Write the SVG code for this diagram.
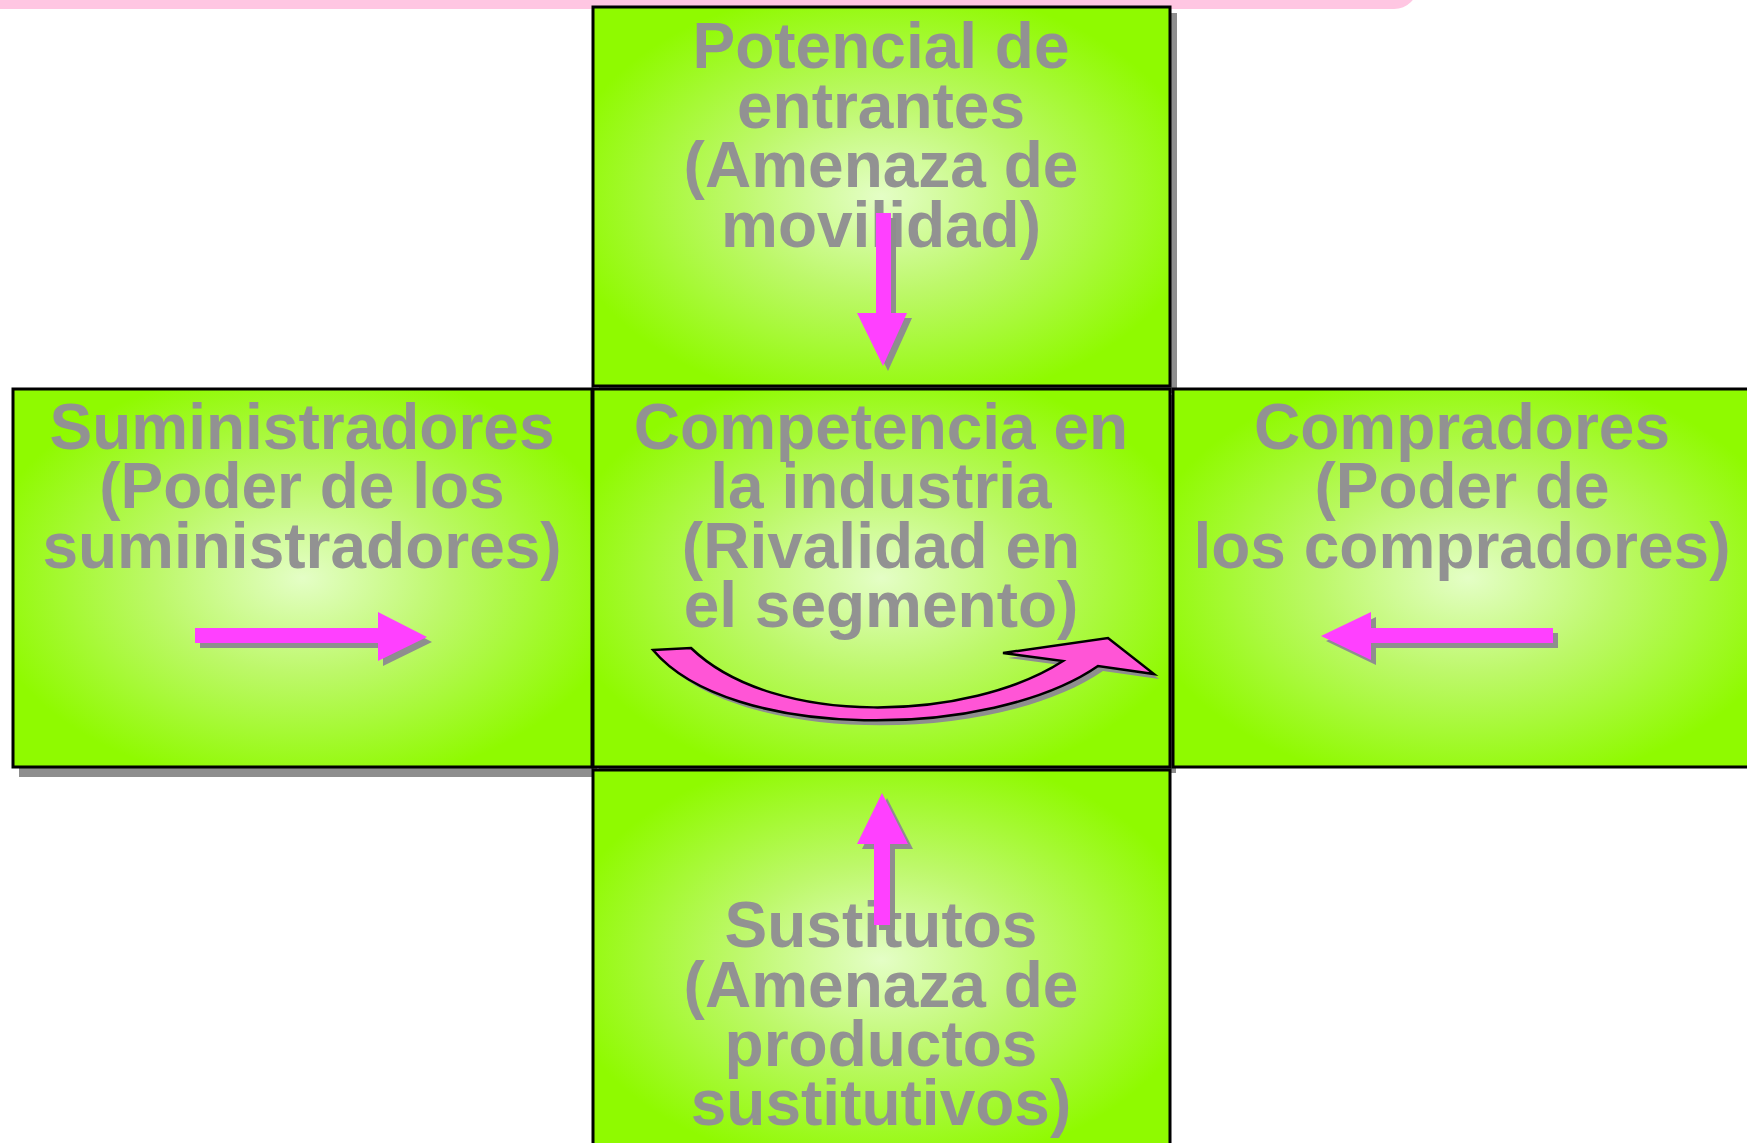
<svg xmlns="http://www.w3.org/2000/svg" width="1747" height="1143" viewBox="0 0 1747 1143">
<defs>
<radialGradient id="g" cx="0.5" cy="0.5" r="0.56">
<stop offset="0" stop-color="#E4FEC6"/>
<stop offset="0.45" stop-color="#BDF86A"/>
<stop offset="1" stop-color="#8FFA00"/>
</radialGradient>
<style>
.box{fill:url(#g);stroke:#000;stroke-width:3}
.sh{fill:#8E8E8E}
.t{font-family:"Liberation Sans",Arial,sans-serif;font-weight:bold;font-size:64px;fill:#929292;text-anchor:middle}
.ar{fill:#FF40FF}
.ash{fill:#8E8E8E}
.cv{fill:#FF55D6;stroke:#000;stroke-width:2.5;stroke-linejoin:miter}
</style>
</defs>
<rect width="1747" height="1143" fill="#fff"/>
<rect x="-40" y="-40" width="1458" height="49" rx="24" fill="#FFC6E2"/>

<g id="node-top">
<rect class="sh" x="599" y="13" width="578" height="380"/>
<rect class="box" x="593" y="7" width="577" height="379"/>
<text class="t"><tspan x="881" y="68">Potencial de</tspan><tspan x="881" y="128">entrantes</tspan><tspan x="881" y="187">(Amenaza de</tspan><tspan x="881" y="247">movilidad)</tspan></text>
</g>

<g id="node-left">
<rect class="sh" x="19" y="395" width="578" height="382"/>
<rect class="box" x="13" y="389" width="579" height="378"/>
<text class="t"><tspan x="302" y="449">Suministradores</tspan><tspan x="302" y="508">(Poder de los</tspan><tspan x="302" y="568">suministradores)</tspan></text>
</g>

<g id="node-center">
<rect class="sh" x="599" y="395" width="577" height="378"/>
<rect class="box" x="593" y="389" width="577" height="378"/>
<text class="t"><tspan x="881" y="449">Competencia en</tspan><tspan x="881" y="508">la industria</tspan><tspan x="881" y="568">(Rivalidad en</tspan><tspan x="881" y="627">el segmento)</tspan></text>
</g>

<g id="node-right">
<rect class="box" x="1173" y="389" width="590" height="378"/>
<text class="t"><tspan x="1462" y="449">Compradores</tspan><tspan x="1462" y="508">(Poder de</tspan><tspan x="1462" y="568">los compradores)</tspan></text>
</g>

<g id="node-bottom">
<rect class="box" x="593" y="770" width="577" height="380"/>
<text class="t"><tspan x="881" y="947">Sustitutos</tspan><tspan x="881" y="1007">(Amenaza de</tspan><tspan x="881" y="1066">productos</tspan><tspan x="881" y="1125">sustitutivos)</tspan></text>
</g>

<g id="connectors">
<g transform="translate(5,5)" class="ash">
<polygon points="876,213 891,213 891,313 907,313 883,366 857,313 876,313"/>
<polygon points="882,793 908,844 890,844 890,925 874,925 874,844 857,844"/>
<polygon points="195,628 378,628 378,612 427,637 378,661 378,643 195,643"/>
<polygon points="1553,628 1371,628 1371,612 1321,636 1371,660 1371,643 1553,643"/>
<path d="M653 650 L691 648 C775 729 970 721 1063 661 L1003 653 L1108 638 L1154 674 L1098 666 C991 740 730 742 653 650 Z"/>
</g>
<polygon class="ar" points="876,213 891,213 891,313 907,313 883,366 857,313 876,313"/>
<polygon class="ar" points="882,793 908,844 890,844 890,925 874,925 874,844 857,844"/>
<polygon class="ar" points="195,628 378,628 378,612 427,637 378,661 378,643 195,643"/>
<polygon class="ar" points="1553,628 1371,628 1371,612 1321,636 1371,660 1371,643 1553,643"/>
<path class="cv" d="M653 650 L691 648 C775 729 970 721 1063 661 L1003 653 L1108 638 L1154 674 L1098 666 C991 740 730 742 653 650 Z"/>
</g>
</svg>
